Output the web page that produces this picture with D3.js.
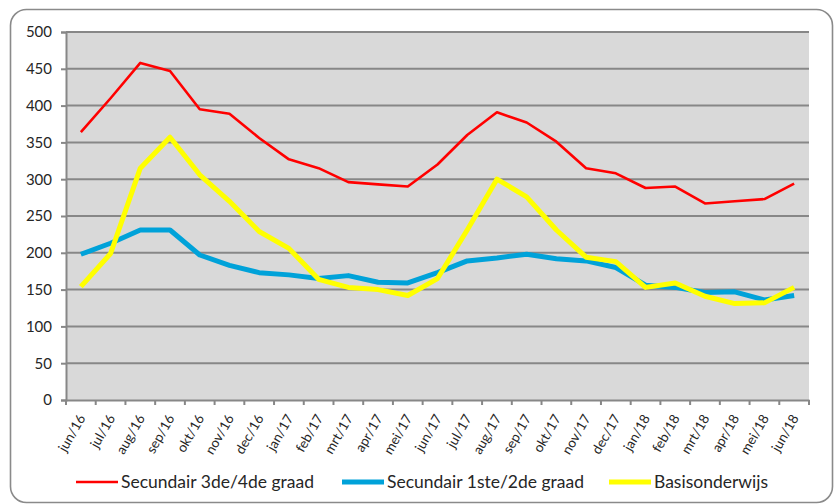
<!DOCTYPE html>
<html><head><meta charset="utf-8">
<script src="https://cdn.jsdelivr.net/npm/d3@7/dist/d3.min.js"></script>
<style>body{margin:0;background:#fff;}svg{display:block;}text{font-family:Lato,"Open Sans",sans-serif;fill:#262626;}</style>
</head><body><svg id="c" width="834" height="504"></svg>
<script>
const months = ["jun/16","jul/16","aug/16","sep/16","okt/16","nov/16","dec/16","jan/17","feb/17","mrt/17","apr/17","mei/17","jun/17","jul/17","aug/17","sep/17","okt/17","nov/17","dec/17","jan/18","feb/18","mrt/18","apr/18","mei/18","jun/18"];
const sec34 = [364,410,458,447,395,389,356,327,315,296,293,290,320,360,391,377,351,315,308,288,290,267,270,273,294];
const sec12 = [198,213,231,231,197,183,173,170,165,169,160,159,173,189,193,198,192,189,180,156,153,146,147,136,142];
const basis = [154,199,315,357,306,270,229,206,164,153,150,142,165,231,300,276,231,194,188,153,159,141,131,132,153];
const yTicks = [0,50,100,150,200,250,300,350,400,450,500];
const seriesNames = ["Secundair 3de/4de graad","Secundair 1ste/2de graad","Basisonderwijs"];

const svg = d3.select("#c");
const L=66,R=809,T=32,B=400;
svg.append("rect").attr("x",10.5).attr("y",9.5).attr("width",822).attr("height",493).attr("rx",16)
  .attr("fill","#fff").attr("stroke","#8a8a8a").attr("stroke-width",1.6);
const x = d3.scaleBand().domain(months).range([L,R]);
const y = d3.scaleLinear().domain([0,500]).range([B,T]);
svg.append("rect").attr("x",L).attr("y",T).attr("width",R-L).attr("height",B-T).attr("fill","#d9d9d9");
svg.append("g").selectAll("line").data(yTicks.filter(d=>d>0)).join("line")
  .attr("x1",L).attr("x2",R).attr("y1",d=>y(d)).attr("y2",d=>y(d)).attr("stroke","#878787").attr("stroke-width",2);
// y axis
const ya = svg.append("g").attr("transform",`translate(${L},0)`).call(d3.axisLeft(y).tickValues(yTicks).tickSize(5).tickPadding(9));
ya.select(".domain").attr("stroke","#878787").attr("stroke-width",2);
ya.selectAll(".tick line").attr("stroke","#878787").attr("stroke-width",2);
ya.selectAll("text").style("font-size","15px").style("font-family","Lato").attr("fill","#262626");
// x axis
const xa = svg.append("g").attr("transform",`translate(0,${B})`).call(d3.axisBottom(x).tickSize(0).tickSizeOuter(0));
xa.select(".domain").attr("stroke","#878787").attr("stroke-width",2);
const bounds = d3.range(months.length+1).map(i=>L+i*x.step());
xa.selectAll("line.b").data(bounds).join("line").attr("class","b")
  .attr("x1",d=>d).attr("x2",d=>d).attr("y1",0).attr("y2",5).attr("stroke","#878787").attr("stroke-width",2);
xa.selectAll(".tick text").style("font-size","13.5px").style("font-family","Lato").attr("fill","#262626")
  .attr("text-anchor","end").attr("dy",0).attr("y",0)
  .attr("transform","translate(5,18) rotate(-60)");
// lines
const line = d3.line().x((d,i)=>x(months[i])+x.bandwidth()/2).y(d=>y(d));
const defs=[{d:sec34,c:"#ff0000",w:2.6},{d:sec12,c:"#00a2d9",w:5},{d:basis,c:"#ffff00",w:5}];
[defs[0],defs[1],defs[2]].forEach(s=>{
  svg.append("path").datum(s.d).attr("d",line).attr("fill","none").attr("stroke",s.c).attr("stroke-width",s.w)
   .attr("stroke-linejoin","round");
});
// legend
const lx=[76,342,609];
seriesNames.forEach((n,i)=>{
  svg.append("line").attr("x1",lx[i]).attr("x2",lx[i]+42).attr("y1",482).attr("y2",482)
    .attr("stroke",defs[i].c).attr("stroke-width",defs[i].w);
  svg.append("text").attr("x",lx[i]+45).attr("y",488).text(n).style("font-size","17.5px");
});
</script></body></html>
